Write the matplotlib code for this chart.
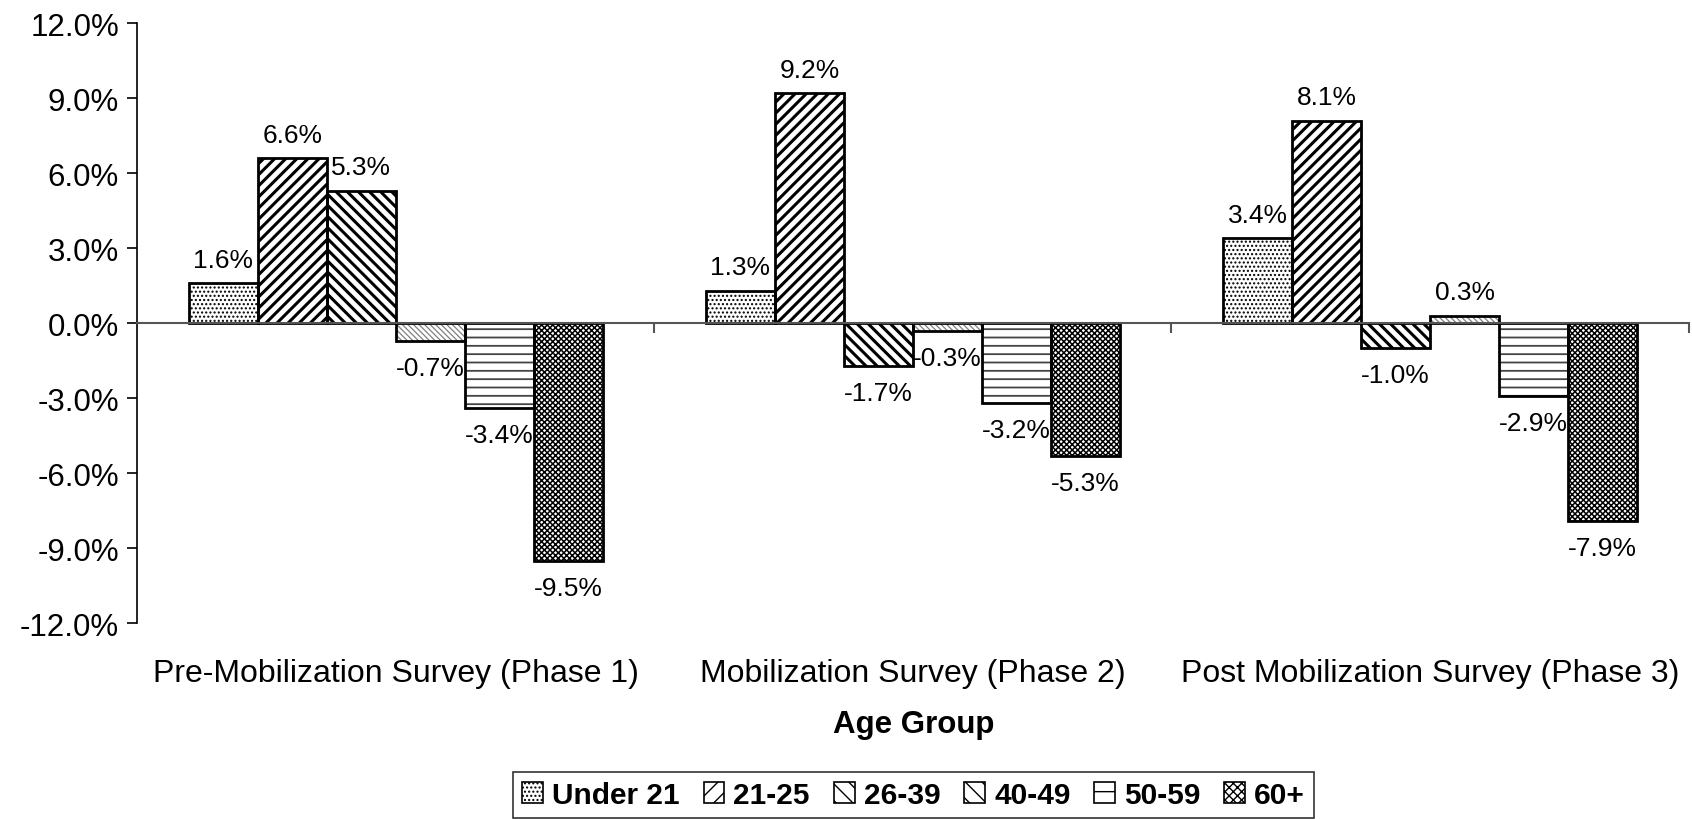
import numpy as np
import matplotlib

matplotlib.use("Agg")
import matplotlib.pyplot as plt  # noqa: E402
from matplotlib.patches import Patch  # noqa: E402

plt.rcParams["font.family"] = ["Liberation Sans", "DejaVu Sans"]

categories = ["Pre-Mobilization Survey (Phase 1)",
              "Mobilization Survey (Phase 2)",
              "Post Mobilization Survey (Phase 3)"]
groups = ["Under 21", "21-25", "26-39", "40-49", "50-59", "60+"]
under21 = [1.6, 1.3, 3.4]
age21_25 = [6.6, 9.2, 8.1]
age26_39 = [5.3, -1.7, -1.0]
age40_49 = [-0.7, -0.3, 0.3]
age50_59 = [-3.4, -3.2, -2.9]
age60p = [-9.5, -5.3, -7.9]
series = [under21, age21_25, age26_39, age40_49, age50_59, age60p]
yticks = [-12, -9, -6, -3, 0, 3, 6, 9, 12]

# hatch pattern, hatch colour, hatch linewidth, legend hatch
styles = [
    ("....", "black", 1.0, "...."),
    ("///", "black", 2.2, "//"),
    ("\\\\\\", "black", 2.2, "\\\\"),
    ("\\\\\\\\\\\\", "#808080", 0.9, "\\\\"),
    ("--", "#444444", 1.3, "-"),
    ("xxxxxx", "black", 1.1, "xxxx"),
]

fig = plt.figure(figsize=(16.92, 8.2), dpi=100)
ax = fig.add_axes([0.081, 0.239, 0.917, 0.7317])

x = np.arange(len(categories))
w = 0.8 / len(groups)
for i, (vals, (hatch, hc, hlw, _)) in enumerate(zip(series, styles)):
    pos = x - 0.4 + w * (i + 0.5)
    with plt.rc_context({"hatch.linewidth": hlw}):
        ax.bar(pos, vals, w, color="white", edgecolor=hc, hatch=hatch, lw=0, zorder=2)
    ax.bar(pos, vals, w, fill=False, edgecolor="black", lw=2, zorder=3)
    for p, v in zip(pos, vals):
        ax.annotate(f"{v:.1f}%", (p, v), xytext=(0, 8 if v >= 0 else -11),
                    textcoords="offset points", ha="center",
                    va="bottom" if v >= 0 else "top", fontsize=19)

ax.set_xlim(-0.5, 2.5)
ax.set_ylim(-12, 12)
ax.set_yticks(yticks)
ax.set_yticklabels([f"{t:.1f}%" for t in yticks], fontsize=22.5)
ax.tick_params(axis="y", direction="out", length=7, width=1.2, pad=6)
for s in ["top", "right"]:
    ax.spines[s].set_visible(False)
ax.spines["left"].set_linewidth(1.2)
ax.spines["bottom"].set_position(("data", 0))
ax.spines["bottom"].set_color("#555555")
ax.spines["bottom"].set_linewidth(1.5)
ax.spines["bottom"].set_zorder(4)
ax.set_xticks([0.5, 1.5, 2.5])
ax.set_xticklabels([])
ax.tick_params(axis="x", direction="out", length=7, width=1.5, color="#555555")

for xi, c in zip(x, categories):
    ax.text(xi, -0.083, c, transform=ax.get_xaxis_transform(), ha="center",
            va="center", fontsize=23)
fig.text(0.54, 1 - 725 / 820, "Age Group", ha="center", va="center",
         fontsize=22.5, fontweight="bold")

handles = []
for g, (_, _, _, lh) in zip(groups, styles):
    handles.append(Patch(facecolor="white", edgecolor="black", hatch=lh, lw=1.2, label=g))
leg = fig.legend(handles=handles, loc="upper center", bbox_to_anchor=(0.540, 1 - 773 / 820),
                 borderaxespad=0, ncol=6, frameon=True, fancybox=False, edgecolor="black",
                 handlelength=0.7, handleheight=0.7, handletextpad=0.3,
                 columnspacing=0.8, borderpad=0.3,
                 prop={"weight": "bold", "size": 21.5})
leg.get_frame().set_linewidth(1.2)

fig.savefig("out.png", dpi=100)
